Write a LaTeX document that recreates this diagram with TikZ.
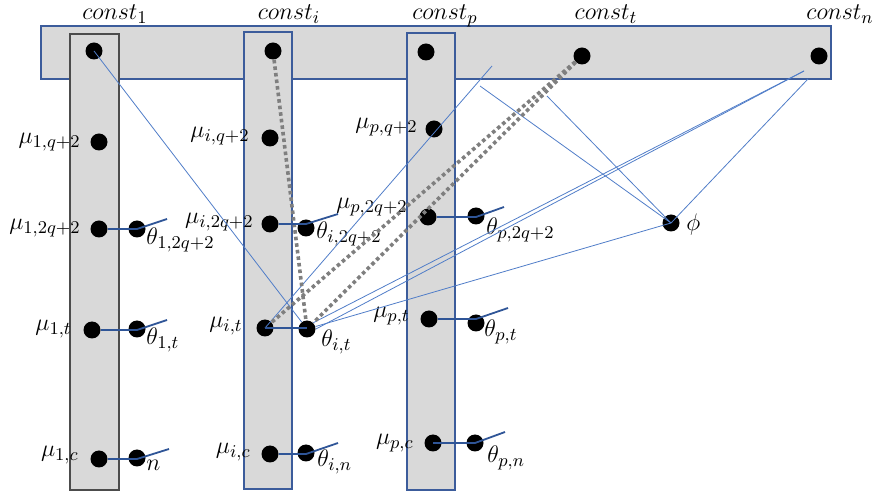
\documentclass[tikz,border=0pt]{standalone}
\usepackage{amsmath}
\usetikzlibrary{calc}
\definecolor{boxline}{RGB}{60,92,155}
\definecolor{boxfill}{RGB}{217,217,217}
\definecolor{linkblue}{RGB}{80,125,200}
\definecolor{tieblue}{RGB}{47,85,151}
\definecolor{tracegray}{RGB}{127,127,127}
\begin{document}
\begin{tikzpicture}[
                    x=0.5pt, y=-0.5pt,
                    bar/.style={draw=boxline, fill=boxfill, line width=0.55pt},
                    ball/.style={circle, fill=black, inner sep=0pt, minimum size=8.5pt},
                    lbl/.style={inner sep=0pt, font=\fontsize{13}{15}\selectfont},
                    link/.style={draw=linkblue, line width=0.4pt},
                    tie/.style={draw=tieblue, line width=0.9pt},
                    trace/.style={draw=tracegray, line width=1.8pt, dash pattern=on 1.8pt off 1.5pt}
                ]
                    \useasboundingbox (0,0) rectangle (874,497);

                    \draw[bar] (41,26) rectangle (831,79);
                    \draw[bar, draw=black!70] (70,34) rectangle (119,490);
                    \draw[bar] (244,32) rectangle (292,489);
                    \draw[bar] (407,33) rectangle (455,490);

                    \node[ball] (c1) at (94,51) {};
                    \node[ball] (ci) at (273,51) {};
                    \node[ball] (cp) at (426,52) {};
                    \node[ball] (ct) at (582,56) {};
                    \node[ball] (cn) at (819,56) {};

                    \node[ball] (m1q) at (99,142) {};
                    \node[ball] (m1w) at (99,229) {};
                    \node[ball] (t1w) at (137,229) {};
                    \node[ball] (m1t) at (92,330) {};
                    \node[ball] (t1t) at (137,329) {};
                    \node[ball] (m1c) at (99,459) {};
                    \node[ball] (t1c) at (137,458) {};

                    \node[ball] (miq) at (270,138) {};
                    \node[ball] (miw) at (270,224) {};
                    \node[ball] (tiw) at (306,228) {};
                    \node[ball] (mit) at (265,328) {};
                    \node[ball] (tit) at (307,329) {};
                    \node[ball] (mic) at (270,454) {};
                    \node[ball] (tic) at (306,453) {};

                    \node[ball] (mpq) at (434,129) {};
                    \node[ball] (mpw) at (428,217) {};
                    \node[ball] (tpw) at (476,216) {};
                    \node[ball] (mpt) at (429,319) {};
                    \node[ball] (tpt) at (476,323) {};
                    \node[ball] (mpc) at (433,443) {};
                    \node[ball] (tpc) at (475,443) {};

                    \node[ball] (phi) at (671,223) {};

                    \node[lbl] (lc1) at (115,14) {$const_1$};
                    \node[lbl] (lci) at (289,14) {$const_i$};
                    \node[lbl] (lcp) at (445,16) {$const_p$};
                    \node[lbl] (lct) at (606,14) {$const_t$};
                    \node[lbl] (lcn) at (840,14) {$const_n$};

                    \node[lbl, anchor=east] (lm1q) at (81,142) {$\mu_{1,q+2}$};
                    \node[lbl, anchor=east] (lm1w) at (81,228) {$\mu_{1,2q+2}$};
                    \node[lbl, anchor=west] (lt1w) at (146,240) {$\theta_{1,2q+2}$};
                    \node[lbl, anchor=east] (lm1t) at (72,329) {$\mu_{1,t}$};
                    \node[lbl, anchor=west] (lt1t) at (146,340) {$\theta_{1,t}$};
                    \node[lbl, anchor=east] (lm1c) at (79,455) {$\mu_{1,c}$};
                    \node[lbl, anchor=west] (lt1c) at (146,465) {$n$};

                    \node[lbl, anchor=east] (lmiq) at (250,136) {$\mu_{i,q+2}$};
                    \node[lbl, anchor=east] (lmiw) at (254,222) {$\mu_{i,2q+2}$};
                    \node[lbl, anchor=west] (ltiw) at (316,234) {$\theta_{i,2q+2}$};
                    \node[lbl, anchor=east] (lmit) at (243,326) {$\mu_{i,t}$};
                    \node[lbl, anchor=west] (ltit) at (321,342) {$\theta_{i,t}$};
                    \node[lbl, anchor=east] (lmic) at (251,452) {$\mu_{i,c}$};
                    \node[lbl, anchor=west] (ltic) at (317,462) {$\theta_{i,n}$};

                    \node[lbl, anchor=east] (lmpq) at (418,127) {$\mu_{p,q+2}$};
                    \node[lbl] (lmpw) at (372,207) {$\mu_{p,2q+2}$};
                    \node[lbl, anchor=west] (ltpw) at (486,230) {$\theta_{p,2q+2}$};
                    \node[lbl, anchor=east] (lmpt) at (410,316) {$\mu_{p,t}$};
                    \node[lbl, anchor=west] (ltpt) at (484,332) {$\theta_{p,t}$};
                    \node[lbl, anchor=east] (lmpc) at (414,443) {$\mu_{p,c}$};
                    \node[lbl, anchor=west] (ltpc) at (487,458) {$\theta_{p,n}$};

                    \node[lbl, anchor=west] (lphi) at (686,225) {$\phi$};

                    \coordinate (fp) at (492,66);
                    \coordinate (fa) at (480,86);
                    \coordinate (fb) at (547,96);
                    \coordinate (na) at (804,71);
                    \coordinate (nb) at (808,79);

                    \draw[link] (c1.center) -- (tit);
                    \draw[link] (mit.center) -- (fp);
                    \draw[link] (tit.north east) -- (na);
                    \draw[link] (tit.east) -- (na);
                    \draw[link] (tit) -- (phi.center);
                    \draw[link] (fa) -- (phi.center);
                    \draw[link] (fb) -- (phi.center);
                    \draw[link] (nb) -- (phi.center);

                    \draw[trace] (ci) -- (tit);
                    \draw[trace] (ct) -- (mit);
                    \draw[trace] (ct) -- (tit);

                    \draw[tie] (m1w.east) -- (m1w -| t1w) -- ++(30,-10);
                    \draw[tie] (m1t.east) -- (m1t -| t1t) -- ++(30,-10);
                    \draw[tie] (m1c.east) -- (m1c -| t1c) -- ++(32,-10);
                    \draw[tie] (miw.east) -- (miw -| tiw) -- ++(32,-10);
                    \draw[tie] (mit.center) -- (mit -| tit);
                    \draw[tie] (mic.east) -- (mic -| tic) -- ++(32,-11);
                    \draw[tie] (mpw.east) -- (mpw -| tpw) -- ++(28,-10);
                    \draw[tie] (mpt.east) -- (mpt -| tpt) -- ++(32,-11);
                    \draw[tie] (mpc.center) -- (mpc -| tpc) -- ++(30,-11);

                \end{tikzpicture}
\end{document}
